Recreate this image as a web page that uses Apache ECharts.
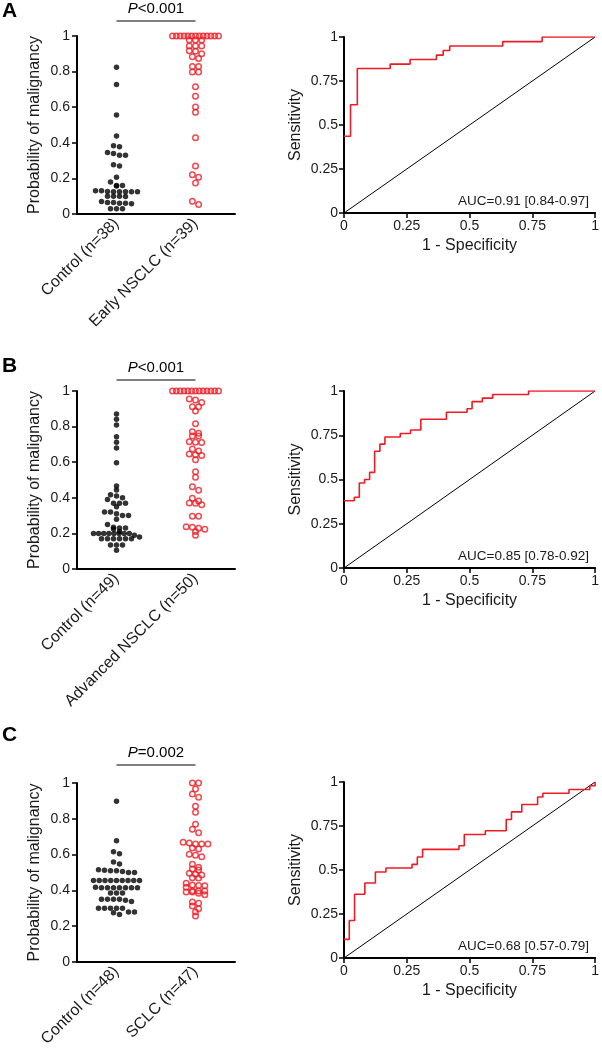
<!DOCTYPE html>
<html><head><meta charset="utf-8">
<script src="https://cdn.jsdelivr.net/npm/echarts/dist/echarts.min.js"></script>
<style>html,body{margin:0;padding:0;background:#fff}#c{width:602px;height:1050px}</style>
</head><body><div id="c"></div>
<script>
// ---------- DATA ----------
const panelLetters = ['A', 'B', 'C'];
const categoriesA = ['Control (n=38)', 'Early NSCLC (n=39)'];
const categoriesB = ['Control (n=49)', 'Advanced NSCLC (n=50)'];
const categoriesC = ['Control (n=48)', 'SCLC (n=47)'];
const pValues = ['<0.001', '<0.001', '=0.002'];
const aucLabels = ['AUC=0.91 [0.84-0.97]', 'AUC=0.85 [0.78-0.92]', 'AUC=0.68 [0.57-0.79]'];

const controlA = [0.824, 0.728, 0.556, 0.438, 0.384, 0.378, 0.345, 0.34, 0.33, 0.33, 0.277, 0.27, 0.206, 0.18,
  0.16, 0.16, 0.158, 0.13, 0.127, 0.125, 0.125, 0.125, 0.125, 0.125, 0.13, 0.1, 0.1, 0.1, 0.098,
  0.065, 0.06, 0.07, 0.065, 0.06, 0.058, 0.03, 0.03, 0.03];
const caseA = [1, 1, 1, 1, 1, 1, 1, 1, 1, 1, 1, 1, 1, 0.977, 0.977, 0.977, 0.944, 0.944, 0.944,
  0.917, 0.914, 0.9, 0.884, 0.873, 0.828, 0.828, 0.798, 0.798, 0.715, 0.661, 0.601, 0.571, 0.429,
  0.27, 0.221, 0.206, 0.174, 0.071, 0.054];

const controlB = [0.871, 0.841, 0.809, 0.743, 0.712, 0.68, 0.597, 0.466, 0.444, 0.417, 0.41, 0.4,
  0.39, 0.37, 0.37, 0.37, 0.35, 0.32, 0.32, 0.31, 0.3, 0.3, 0.28, 0.25, 0.235, 0.23, 0.23, 0.225,
  0.21, 0.2, 0.2, 0.2, 0.2, 0.2, 0.2, 0.2, 0.2, 0.19, 0.17, 0.17, 0.17, 0.17, 0.17, 0.17, 0.18,
  0.135, 0.135, 0.135, 0.105];
const caseB = [1, 1, 1, 1, 1, 1, 1, 1, 1, 1, 1, 1, 1, 0.955, 0.949, 0.936, 0.912, 0.912, 0.888,
  0.816, 0.771, 0.762, 0.747, 0.747, 0.715, 0.712, 0.71, 0.674, 0.663, 0.646, 0.642, 0.637, 0.614,
  0.547, 0.515, 0.462, 0.442, 0.397, 0.382, 0.371, 0.369, 0.361, 0.296, 0.296, 0.238, 0.234,
  0.229, 0.223, 0.21, 0.189];

const controlC = [0.898, 0.678, 0.616, 0.605, 0.559, 0.547, 0.515, 0.512, 0.51, 0.51, 0.505, 0.5, 0.5,
  0.455, 0.455, 0.455, 0.455, 0.455, 0.455, 0.455, 0.455, 0.455,
  0.418, 0.415, 0.415, 0.415, 0.415, 0.415, 0.415, 0.415, 0.385, 0.385, 0.385,
  0.35, 0.35, 0.35, 0.35, 0.345, 0.338, 0.3, 0.3, 0.3, 0.3, 0.3, 0.28, 0.28, 0.275, 0.265];
const caseC = [1, 1, 0.966, 0.938, 0.92, 0.87, 0.836, 0.769, 0.741, 0.722,
  0.669, 0.665, 0.659, 0.659, 0.659, 0.637, 0.631, 0.602, 0.596, 0.588, 0.546, 0.529, 0.52, 0.514,
  0.496, 0.49, 0.486, 0.471, 0.469, 0.44, 0.43, 0.428, 0.426, 0.417,
  0.398, 0.397, 0.397, 0.391, 0.391, 0.384, 0.376, 0.335, 0.328, 0.313, 0.298, 0.279, 0.257];

// ROC step corners: [1 - specificity, sensitivity]
const rocA_fpr = [0, 0.026, 0.053, 0.184, 0.263, 0.368, 0.395, 0.421, 0.632, 0.789, 1];
const rocA_tpr = [0.436, 0.615, 0.821, 0.846, 0.872, 0.897, 0.923, 0.949, 0.974, 1, 1];
const rocB_fpr = [0, 0.041, 0.061, 0.082, 0.102, 0.122, 0.143, 0.163, 0.224, 0.265, 0.306, 0.408, 0.49, 0.51, 0.551, 0.592, 0.735, 1];
const rocB_tpr = [0.38, 0.4, 0.48, 0.5, 0.54, 0.66, 0.7, 0.74, 0.76, 0.78, 0.84, 0.88, 0.9, 0.94, 0.96, 0.98, 1, 1];
const rocC_fpr = [0, 0.021, 0.042, 0.083, 0.125, 0.167, 0.271, 0.292, 0.313, 0.458, 0.479, 0.563, 0.646, 0.667, 0.708, 0.771, 0.792, 0.896, 0.979, 1];
const rocC_tpr = [0.106, 0.213, 0.362, 0.426, 0.489, 0.511, 0.532, 0.574, 0.617, 0.638, 0.702, 0.723, 0.787, 0.83, 0.872, 0.915, 0.936, 0.957, 0.979, 1];

// ---------- LAYOUT ----------
const FONT = "'Liberation Sans', Arial, Helvetica, sans-serif";
const TXT = '#1a1a1a';
const RED = '#ed1c24';
const layout = [
  { dot: { left: 77, top: 36, width: 158, height: 178 }, roc: { left: 344, top: 37, width: 257, height: 176 }, letterY: 11.5, pY: 9, brY: 21 },
  { dot: { left: 77, top: 391, width: 158, height: 178 }, roc: { left: 344, top: 391, width: 257, height: 177 }, letterY: 366, pY: 368, brY: 380 },
  { dot: { left: 77, top: 783, width: 158, height: 179 }, roc: { left: 344, top: 782, width: 257, height: 176 }, letterY: 735.5, pY: 753, brY: 765 }
];
const panels = [
  { cats: categoriesA, ctrl: controlA, cas: caseA, fpr: rocA_fpr, tpr: rocA_tpr },
  { cats: categoriesB, ctrl: controlB, cas: caseB, fpr: rocB_fpr, tpr: rocB_tpr },
  { cats: categoriesC, ctrl: controlC, cas: caseC, fpr: rocC_fpr, tpr: rocC_tpr }
];

// Prism-like beeswarm: group values into rows, spread each row horizontally (pixel offsets)
function swarm(values, binH, step, maxW) {
  const idx = values.map((v, i) => i).sort((a, b) => values[b] - values[a]);
  const off = new Array(values.length).fill(0);
  let i = 0;
  while (i < idx.length) {
    const start = values[idx[i]];
    const row = [];
    while (i < idx.length && start - values[idx[i]] <= binH + 1e-9) { row.push(idx[i]); i++; }
    const n = row.length;
    const s = n > 1 ? Math.min(step, maxW / (n - 1)) : 0;
    row.forEach((k, j) => { off[k] = (j - (n - 1) / 2) * s; });
  }
  return off;
}

const grids = [], xAxes = [], yAxes = [], series = [], graphics = [];
const axisLineStyle = { color: '#000', width: 2 };
const tickStyle = { color: '#000', width: 1.5 };
const labelStyle = { color: TXT, fontSize: 14, fontFamily: FONT };
const nameStyle = { fontSize: 16, color: TXT, fontFamily: FONT };

panels.forEach((p, k) => {
  const L = layout[k];
  const gDot = grids.length;
  grids.push(Object.assign({ containLabel: false }, L.dot));
  grids.push(Object.assign({ containLabel: false }, L.roc));
  // dot plot axes
  xAxes.push({
    type: 'category', gridIndex: gDot, data: p.cats, boundaryGap: true,
    axisLine: { lineStyle: axisLineStyle }, axisTick: { alignWithLabel: true, length: 5, lineStyle: tickStyle },
    axisLabel: { rotate: 45, fontSize: 16, color: TXT, fontFamily: FONT, margin: 7, interval: 0 }
  });
  yAxes.push({
    type: 'value', gridIndex: gDot, min: 0, max: 1, interval: 0.2,
    name: 'Probability of malignancy', nameLocation: 'middle', nameGap: 34, nameTextStyle: nameStyle,
    axisLine: { show: true, lineStyle: axisLineStyle }, axisTick: { show: true, length: 5, lineStyle: tickStyle },
    splitLine: { show: false }, axisLabel: Object.assign({ margin: 7 }, labelStyle)
  });
  // ROC axes
  xAxes.push({
    type: 'value', gridIndex: gDot + 1, min: 0, max: 1, interval: 0.25,
    name: '1 - Specificity', nameLocation: 'middle', nameGap: 25, nameTextStyle: nameStyle,
    axisLine: { lineStyle: axisLineStyle }, axisTick: { show: true, length: 5, lineStyle: tickStyle },
    splitLine: { show: false }, axisLabel: Object.assign({ margin: 6 }, labelStyle)
  });
  yAxes.push({
    type: 'value', gridIndex: gDot + 1, min: 0, max: 1, interval: 0.25,
    name: 'Sensitivity', nameLocation: 'middle', nameGap: 40, nameTextStyle: nameStyle,
    axisLine: { show: true, lineStyle: axisLineStyle }, axisTick: { show: true, length: 5, lineStyle: tickStyle },
    splitLine: { show: false }, axisLabel: Object.assign({ margin: 6 }, labelStyle)
  });
  const binH = 0.02;
  const offCtrl = swarm(p.ctrl, binH, 6, 46);
  const offCase = swarm(p.cas, binH, 6.2, 46);
  series.push({
    type: 'scatter', xAxisIndex: gDot, yAxisIndex: gDot, symbol: 'circle', symbolSize: 5.5,
    itemStyle: { color: '#000' }, silent: true,
    data: p.ctrl.map((v, i) => ({ value: [0, v], symbolOffset: [offCtrl[i], 0] }))
  });
  series.push({
    type: 'scatter', xAxisIndex: gDot, yAxisIndex: gDot, symbol: 'circle', symbolSize: 5.5,
    itemStyle: { color: 'rgba(255,255,255,0)', borderColor: RED, borderWidth: 1.5 }, silent: true,
    data: p.cas.map((v, i) => ({ value: [1, v], symbolOffset: [offCase[i], 0] }))
  });
  series.push({
    type: 'line', xAxisIndex: gDot + 1, yAxisIndex: gDot + 1, showSymbol: false, silent: true,
    lineStyle: { color: '#000', width: 1 }, data: [[0, 0], [1, 1]]
  });
  series.push({
    type: 'line', xAxisIndex: gDot + 1, yAxisIndex: gDot + 1, showSymbol: false, silent: true, step: 'end',
    lineStyle: { color: RED, width: 1.6 }, data: p.fpr.map((x, i) => [x, p.tpr[i]])
  });
  // annotations
  graphics.push({ type: 'text', x: 2, y: L.letterY, style: { text: panelLetters[k], font: 'bold 21px ' + FONT, fill: '#000', textVerticalAlign: 'middle' } });
  const c0 = L.dot.left + L.dot.width * 0.25, c1 = L.dot.left + L.dot.width * 0.75;
  graphics.push({ type: 'line', shape: { x1: c0, y1: L.brY, x2: c1, y2: L.brY }, style: { stroke: '#000', lineWidth: 1 } });
  graphics.push({ type: 'text', x: (c0 + c1) / 2, y: L.pY, style: {
    text: '{i|P}{n|' + pValues[k] + '}', textAlign: 'center', textVerticalAlign: 'middle',
    rich: { i: { fontStyle: 'italic', fontSize: 15, fontFamily: FONT, color: TXT }, n: { fontSize: 15, fontFamily: FONT, color: TXT } } } });
  graphics.push({ type: 'text', x: L.roc.left + L.roc.width - 12, y: L.roc.top + L.roc.height - 12, style: {
    text: aucLabels[k], font: '13.5px ' + FONT, fill: TXT, textAlign: 'right', textVerticalAlign: 'middle' } });
});

const chart = echarts.init(document.getElementById('c'), null, { renderer: 'canvas' });
chart.setOption({
  animation: false, backgroundColor: '#fff',
  grid: grids, xAxis: xAxes, yAxis: yAxes, series: series, graphic: graphics
});
</script></body></html>
